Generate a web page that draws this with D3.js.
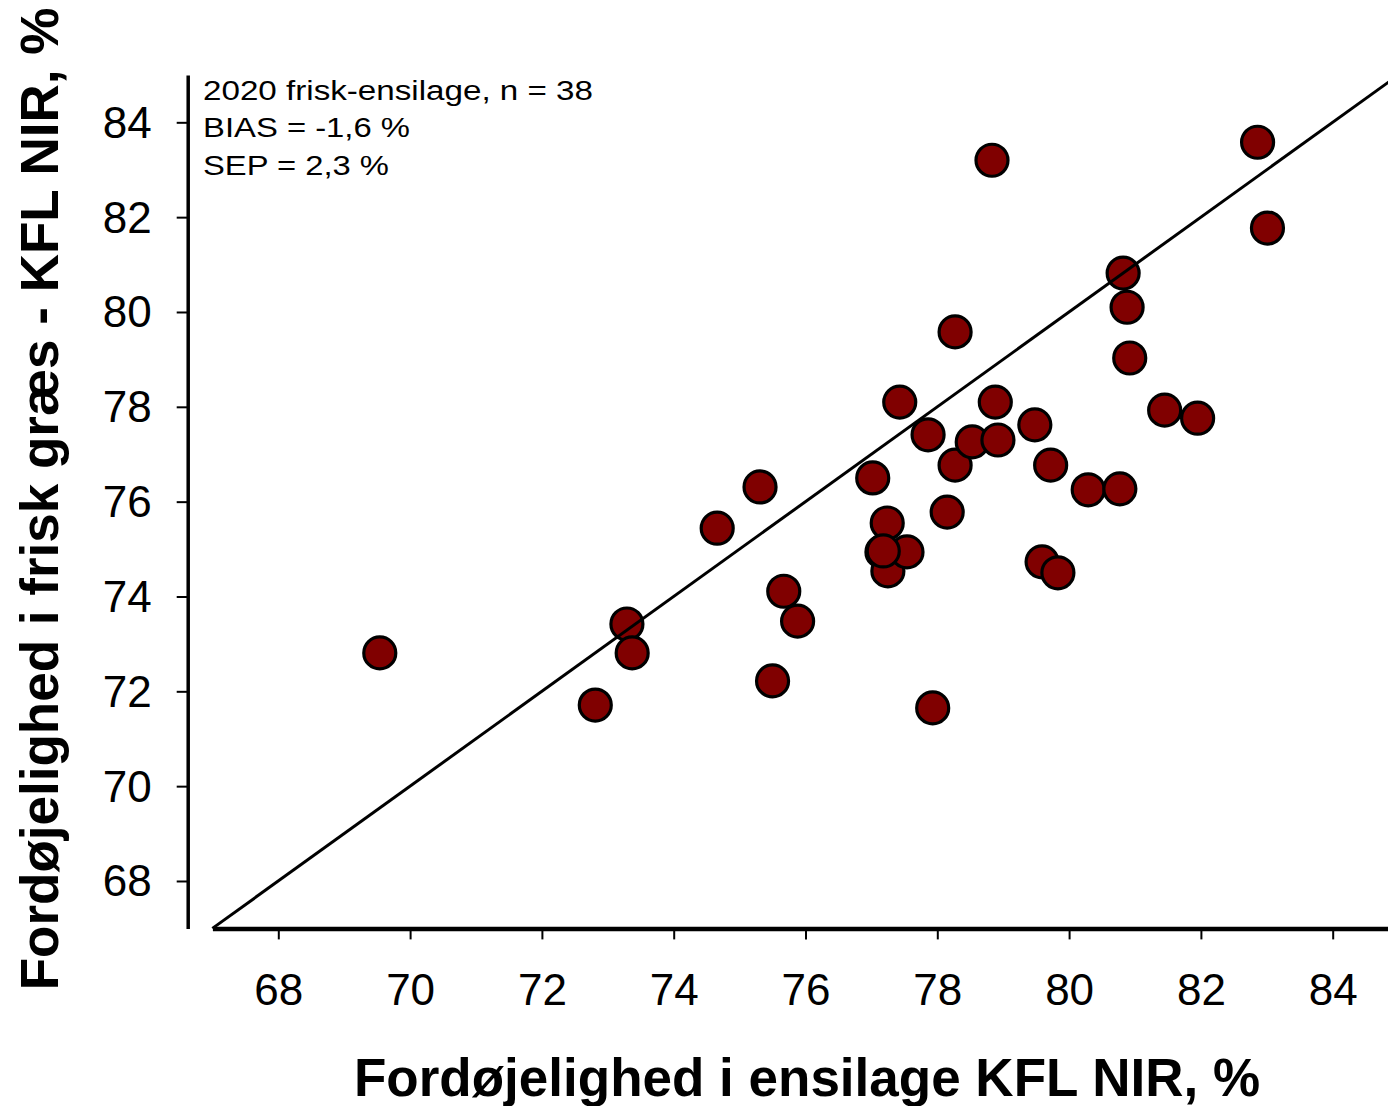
<!DOCTYPE html>
<html>
<head>
<meta charset="utf-8">
<script src="https://cdn.jsdelivr.net/npm/d3@7/dist/d3.min.js"></script>
<style>
  html, body { margin: 0; padding: 0; background: #fff; }
  svg { display: block; }
  text { font-family: "Liberation Sans", Arial, sans-serif; fill: #000; }
</style>
</head>
<body>
<svg id="chart" width="1388" height="1106"></svg>
<script>
// Digestibility in silage (x) versus fresh grass (y), KFL NIR, %
const silageNIR = [69.54, 72.81, 73.29, 73.37, 74.66, 75.31, 75.50, 75.67, 75.88, 77.02,
                   77.24, 77.16, 77.25, 77.54, 77.43, 77.86, 77.93, 78.15, 78.27, 78.27,
                   78.53, 78.83, 78.88, 78.92, 79.48, 79.59, 79.72, 79.83, 80.29, 80.77,
                   80.82, 80.88, 80.92, 81.45, 81.95, 82.86, 83.01, 77.18];
const freshNIR  = [72.81, 71.71, 73.42, 72.81, 75.44, 76.31, 72.22, 74.11, 73.48, 76.50,
                   75.55, 74.94, 74.54, 74.94, 78.10, 77.41, 71.65, 75.78, 76.77, 79.58,
                   77.26, 83.20, 78.10, 77.30, 77.62, 74.73, 76.77, 74.50, 76.25, 76.27,
                   80.82, 80.10, 79.03, 77.93, 77.76, 83.58, 81.77, 74.96];

const xTicks = [68, 70, 72, 74, 76, 78, 80, 82, 84];
const yTicks = [68, 70, 72, 74, 76, 78, 80, 82, 84];
const xDomain = [67, 85];
const yDomain = [67, 85];
const oneToOne = [67, 85];

const statLines = ["2020 frisk-ensilage, n = 38", "BIAS = -1,6 %", "SEP = 2,3 %"];
const xTitle = "Fordøjelighed i ensilage KFL NIR, %";
const yTitle = "Fordøjelighed i frisk græs - KFL NIR, %";

const svg = d3.select("#chart");
svg.append("rect").attr("width", 1388).attr("height", 1106).attr("fill", "#fff");

const x = d3.scaleLinear().domain(xDomain).range([212.4, 1398.6]);
const y = d3.scaleLinear().domain(yDomain).range([928.4, 74.9]);
const yAxisX = 187.7;

// x axis
const gx = svg.append("g")
  .attr("transform", `translate(0,${y(yDomain[0])})`)
  .call(d3.axisBottom(x).tickValues(xTicks).tickFormat(d3.format("d"))
        .tickSize(11).tickSizeOuter(0).tickPadding(34));
gx.select(".domain").attr("stroke", "#000").attr("stroke-width", 4.5);
gx.selectAll(".tick line").attr("stroke", "#000").attr("stroke-width", 2);
gx.selectAll(".tick text").attr("font-size", 44).attr("font-family", "Liberation Sans, Arial, sans-serif");

// y axis
const gy = svg.append("g")
  .attr("transform", `translate(${yAxisX},0)`)
  .call(d3.axisLeft(y).tickValues(yTicks).tickFormat(d3.format("d"))
        .tickSize(11).tickSizeOuter(0).tickPadding(25));
gy.select(".domain").attr("stroke", "#000").attr("stroke-width", 3.5);
gy.selectAll(".tick line").attr("stroke", "#000").attr("stroke-width", 2);
gy.selectAll(".tick text").attr("font-size", 44).attr("dy", "0.34em")
  .attr("font-family", "Liberation Sans, Arial, sans-serif");

// data points
const pts = d3.range(silageNIR.length).map(i => ({ x: silageNIR[i], y: freshNIR[i] }));
svg.append("g").selectAll("circle").data(pts).join("circle")
  .attr("cx", d => x(d.x))
  .attr("cy", d => y(d.y))
  .attr("r", 16)
  .attr("fill", "#800000")
  .attr("stroke", "#000")
  .attr("stroke-width", 3.2);

// 1:1 line
svg.append("line")
  .attr("x1", x(oneToOne[0])).attr("y1", y(oneToOne[0]))
  .attr("x2", x(oneToOne[1])).attr("y2", y(oneToOne[1]))
  .attr("stroke", "#000").attr("stroke-width", 3);

// statistics block
const statWidths = [390, 207, 186];
svg.append("g").selectAll("text").data(statLines).join("text")
  .attr("x", 203)
  .attr("y", (d, i) => 99.5 + i * 37.7)
  .attr("font-size", 27)
  .attr("textLength", (d, i) => statWidths[i])
  .attr("lengthAdjust", "spacingAndGlyphs")
  .text(d => d);

// axis titles
svg.append("text")
  .attr("x", 807).attr("y", 1096)
  .attr("text-anchor", "middle")
  .attr("font-size", 53).attr("font-weight", "bold")
  .text(xTitle);

svg.append("text")
  .attr("transform", "translate(58,499) rotate(-90)")
  .attr("text-anchor", "middle")
  .attr("font-size", 53).attr("font-weight", "bold")
  .text(yTitle);
</script>
</body>
</html>
